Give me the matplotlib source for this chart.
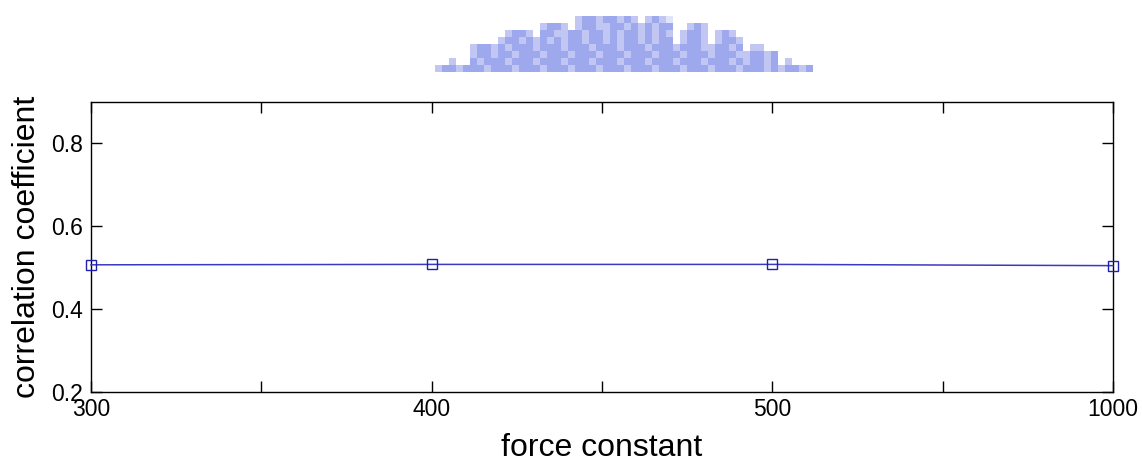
import numpy as np
import matplotlib
matplotlib.use("Agg")
import matplotlib.pyplot as plt

# ---- data ----
force_labels = ["300", "400", "500", "1000"]
corr_values = [0.507, 0.508, 0.508, 0.505]
y_ticks = [0.2, 0.4, 0.6, 0.8]
y_limits = (0.2, 0.9)

plt.rcParams['font.family'] = ['Liberation Sans', 'DejaVu Sans']

fig = plt.figure(figsize=(11.42, 4.62), dpi=100)
ax = fig.add_axes([91/1142, (462-392)/462, (1113-91)/1142, (392-102)/462])

x = np.arange(len(force_labels))
ax.plot(x, corr_values, color='#3a3ac0', linewidth=1.1, marker='s',
        markersize=7, markerfacecolor='none', markeredgecolor='#2020b0',
        markeredgewidth=1.0, clip_on=False, zorder=3)

ax.set_xlim(x[0], x[-1])
ax.set_ylim(*y_limits)
xt = np.arange(0, len(force_labels) - 0.99, 0.5)
ax.set_xticks(xt)
ax.set_xticklabels([force_labels[int(t)] if float(t).is_integer() else "" for t in xt])
ax.set_yticks(y_ticks)
ax.set_yticklabels([f"{v:.1f}" for v in y_ticks])

ax.tick_params(direction='in', length=8, width=1.0, top=True, right=True,
               labelsize=16.5, colors='black')
ax.tick_params(axis='x', pad=4)
ax.tick_params(axis='y', pad=6)
for s in ax.spines.values():
    s.set_linewidth(1.0)
    s.set_color('black')

ax.set_xlabel("force constant", fontsize=23, labelpad=9)
ax.set_ylabel("correlation coefficient", fontsize=23, labelpad=6)

# ---- pixelated watermark at the top ----
rows = [
    " " * 20 + "+##+##+#+" + " " + "+#+.",
    " " * 15 + "+##+" + " " + "+##++##+#+#+##" + "  " + "+#+",
    " " * 10 + "+##+" + " " + "##++##+##+#+##+#+#+" + " " + "+##+" + " " + "+#+",
    " " * 9 + "+##+#+" + "#+#+##+##+#+##+#+##" + " " + "+##+" + " " + "+##+",
    " " * 5 + "+##+" + ("#+##" * 8)[:30] + "+##+#" + " " + "++",
    " " * 5 + "+##+" + ("##+#" * 9)[:35] + "+##+#",
    "  " + "+" + "  " + ("#+##" * 10)[:39] + "+##+#" + " " + "+",
    "+##+#" + ("##+#" * 11)[:44] + "+##+#",
]
ncol = 54
cmap_vals = {' ': (1.0, 1.0, 1.0), '.': (0.88, 0.9, 0.98),
             '+': (0.76, 0.78, 0.95), '#': (0.62, 0.66, 0.93)}
img = np.ones((len(rows), ncol, 3))
for r, line in enumerate(rows):
    line = line.ljust(ncol)[:ncol]
    for c, ch in enumerate(line):
        img[r, c] = cmap_vals.get(ch, (1, 1, 1))
wax = fig.add_axes([435/1142, (462-72)/462, (ncol*7)/1142, 56/462])
wax.imshow(img, aspect='auto', interpolation='nearest')
wax.axis('off')

fig.savefig("out.png", dpi=100)
